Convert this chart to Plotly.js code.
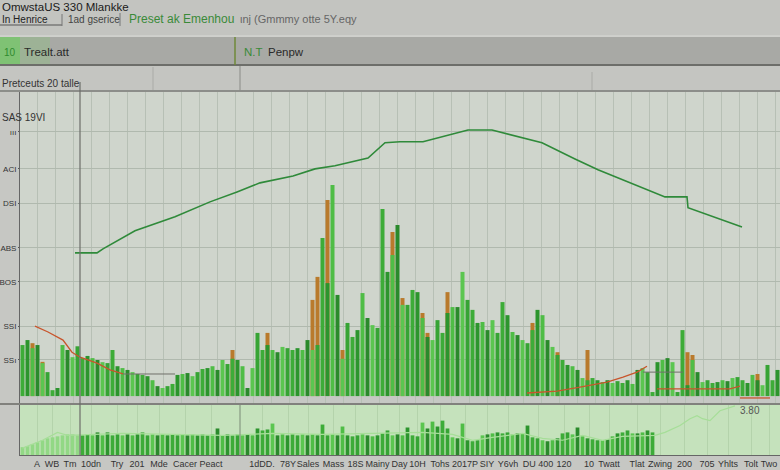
<!DOCTYPE html>
<html>
<head>
<meta charset="utf-8">
<script src="https://cdn.plot.ly/plotly-3.0.1.min.js"></script>
<style>html,body{margin:0;padding:0;background:#c6c7c3;}#chart{width:780px;height:470px;}</style>
</head>
<body>
<div id="chart"></div>
<script>
// ---- data ----
const greenVals = [16.4,18,15.4,16.4,10.6,7.7,1.9,2.6,16.4,14.8,12.5,16,12.2,12.9,12.2,11.6,10.9,10.6,14.8,9.6,
9,8.4,7.7,7.1,6.8,6.4,5.1,3.2,2.6,3.2,3.9,6.8,7.1,7.4,6.4,7.7,8.7,9,9.6,8.4,
11.6,10.3,12,11.6,9.6,2.6,9,20.3,14.8,16.4,14.8,14.1,15.8,15.4,14.8,15.4,14.8,18,14.8,16.4,
50.8,36.3,67.8,32.5,12,23.5,19,21.2,33.1,25.1,22.8,21.9,60.1,39.9,45.3,55,29.3,29.3,34.1,33.4,
25.1,19,18,24.4,20.3,26.7,28.6,28.6,39.9,30.9,27.7,23.5,23.8,21.2,24.4,20.3,30.2,26,20.6,19.6,
18,17,21.2,27.7,26,18,15.8,13.2,11.6,10,9.6,8.4,5.8,5.1,5.8,5.1,4.5,5.1,4.2,4.8,
4.2,5.1,3.9,8.4,9,7.7,1.3,10.9,11.6,12.2,10.9,1.3,21.2,3.5,11.6,7.7,4.5,5.1,4.2,4.5,
5.1,4.8,5.8,6.1,5.1,4.2,6.8,5.1,3.5,10,5.1,8.4];
const orangeVals = greenVals.map(() => null);
const orangeIdx = [2,4,42,49,58,59,61,64,74,76,80,81,85,102,107,113,133,134,147];
const orangeAt = [17,11,14.8,20.3,30.9,38.3,63,14.8,52.7,31.5,26.7,20.3,33.4,23.5,14.1,14.8,14.1,13.2,7.1];
orangeIdx.forEach((d, k) => { orangeVals[d] = orangeAt[k]; });

const trendDays = [10.5,14.9,16.1,22.5,30.5,37.5,42.9,47.5,54.1,58.5,62.5,69.1,72.5,75.5,80.1,89.1,93.9,103.9,110.5,115.1,128.5,132.9,133.1,143.9];
const trendVals = [46,46,47.3,53.1,57.6,62.4,65.6,68.5,70.7,73,74,76.5,81.4,81.7,81.7,85.5,85.5,81.4,76.2,72.7,64,64,60.5,54.3];

const redDays = [2.5,5.1,8.1,9.9,11.5,14.9,17.5,20.1,null,100.9,106.9,111.5,116.9,120.1,122.9,124.9,null,126.9,141.5,143.5,null,143.5,149.5];
const redVals = [22.5,20.6,18,14.1,12.5,10.6,8.4,7.1,null,1,1.6,2.9,4.5,6.1,7.7,9.6,null,2.3,2.3,3.2,null,-0.6,-0.6];

const grayDays = [20.1,30.5,null,124.1,132.1];
const grayVals = [7.1,7.1,null,7.7,7.7];

const lowVals = [1.6,1.8,2.2,2.6,3,3.4,3.6,3.8,4,4.2,4.2,4,4,4.2,4,4.6,4,4.6,4,4.2,
4,4.2,4,4.2,4.6,4,4.2,4,4.2,4,4.2,4,4.2,4,4.2,4,4.2,4,4.2,5.4,
4,4.2,4,4.2,4,4.2,4,5.4,5,5.2,6.4,4,4.2,4,4.2,4,4.2,4,4.2,4,
6.2,4,4.2,4,5.8,4,3.8,4,4.2,4,3.8,4,4.4,5,4,4.2,4,5.6,4,3.8,
6.6,5.4,6.8,5.8,7,5.4,3.6,3.4,6.4,3,2.8,3,4,4.2,4.4,4.6,4.4,4.6,4.2,4.4,
4.4,6,3.6,3.4,3,2.8,3,3.4,4.4,4.6,4.2,5.6,3.8,3.4,3.2,3,3,3.2,3.8,4.4,
4.6,5,4.4,4.4,4.6,5,4.6];
const lowLineDays = [0,4,7,9,20,30,40,50,60,70,80,86,90,94,100,104,108,112,116,120,126.5,128.5,131.5,133.5,134.9,136,137.5,139.5,141.5,142.5];
const lowLineVals = [1.4,3,4.6,4,4.4,4.2,4,4.4,4.2,4.4,4.6,4.2,3,3.6,4.4,3.4,3,4,3,3.8,4,4.6,6,7.4,8,7.4,7,9,9.6,10];

const xTickDays = [2.9,5.9,9.5,13.7,18.9,22.9,27.3,32.5,37.7,47.9,53.1,57.1,62.2,66.6,71.0,75.4,79.0,83.5,88.5,92.9,97.1,103.1,108.3,113.3,117.3,122.9,127.5,132.4,136.9,141.1,145.7,149.3];
const xTickText = ['A','WB','Tm','10dn','Try','201','Mde','Cacer','Peact','1dDD.','78Y','Sales','Mass','18S','Mainy','Day','10H','Tohs','2017P','SIY','Y6vh','DU 400','120','10','Twatt','Tlat','Zwing','200','705','Yhlts','Tolt','Two'];
const yTickVals = [11.6,22.5,36.7,47.6,62,73,84.9];
const yTickText = ['SSı','SSI','BOS','ABS','DSI','ACI','ııı'];

// ---- drawing ----
const days = greenVals.map((_, i) => i);
const lowDays = lowVals.map((_, i) => i);
const shades = ['#3dac38','#2c952d','#4fbd46','#2a8a2b','#5bc650','#36a434'];
const greenColors = days.map(i => shades[(i * 7) % shades.length]);
const lowColors = lowDays.map(i => i < 12 ? '#92d885' : shades[(i * 5) % shades.length]);

const px = p => (p - 20) / 760;          // helper for header layout (paper coords)
const py = p => (455 - p) / 363;

const traces = [
  {type:'bar', x:days, y:orangeVals, marker:{color:'#b97a2c'}, width:0.8, xaxis:'x', yaxis:'y'},
  {type:'bar', x:days, y:greenVals, marker:{color:greenColors}, width:0.8, xaxis:'x', yaxis:'y'},
  {type:'scatter', mode:'lines', x:trendDays, y:trendVals, line:{color:'#2f8a3a', width:1.6}, xaxis:'x', yaxis:'y'},
  {type:'scatter', mode:'lines', x:redDays, y:redVals, line:{color:'#c8552c', width:1.3}, connectgaps:false, xaxis:'x', yaxis:'y'},
  {type:'scatter', mode:'lines', x:grayDays, y:grayVals, line:{color:'#6f6f6a', width:1}, connectgaps:false, xaxis:'x', yaxis:'y'},
  {type:'bar', x:lowDays, y:lowVals, marker:{color:lowColors}, width:0.75, xaxis:'x2', yaxis:'y2'},
  {type:'scatter', mode:'lines', x:lowLineDays, y:lowLineVals, line:{color:'#a6de98', width:1.2}, xaxis:'x2', yaxis:'y2'}
];

const F = 'Liberation Sans, Arial, sans-serif';
const ann = (x, y, text, size, color, extra) => Object.assign({xref:'paper', yref:'paper', x:x, y:y, text:text, showarrow:false, xanchor:'left', yanchor:'middle', font:{family:F, size:size, color:color}}, extra || {});

const layout = {
  width:780, height:470,
  margin:{l:20, r:0, t:92, b:15},
  paper_bgcolor:'#c6c7c3',
  plot_bgcolor:'#cfd5cc',
  showlegend:false, hovermode:false, barmode:'overlay',
  font:{family:F, color:'#333'},
  xaxis:{domain:[0,1], anchor:'y', range:[-0.5,151.5], showticklabels:false, ticks:'', showgrid:true, gridcolor:'#b7c0b5', gridwidth:1, dtick:3.6, tick0:2.9, zeroline:false, showline:false},
  yaxis:{domain:[0.143,1], anchor:'x', range:[-2.25,97.7], tickvals:yTickVals, ticktext:yTickText, tickfont:{size:8, color:'#333'}, ticks:'outside', ticklen:1, tickcolor:'#555', showgrid:true, gridcolor:'#b0b9ae', zeroline:false, showline:true, linecolor:'#666', linewidth:1},
  xaxis2:{domain:[0,1], anchor:'y2', matches:'x', range:[-0.5,151.5], tickvals:xTickDays, ticktext:xTickText, tickangle:0, tickfont:{size:9, color:'#333'}, ticks:'', showgrid:true, gridcolor:'#b4d3ab', zeroline:false, showline:true, linecolor:'#666', linewidth:1},
  yaxis2:{domain:[0,0.138], anchor:'x2', range:[0,10.2], showticklabels:false, ticks:'', showgrid:false, zeroline:false, showline:true, linecolor:'#666'},
  shapes:[
    {type:'rect', xref:'x2 domain', yref:'y2 domain', x0:0, x1:1, y0:0, y1:1, fillcolor:'#c5e2bc', line:{width:0}, layer:'below'},
    {type:'rect', xref:'paper', yref:'paper', x0:0, x1:1, y0:py(403), y1:py(396), fillcolor:'#c6c8c4', line:{width:0}, layer:'below'},
    {type:'line', xref:'paper', yref:'paper', x0:px(0), x1:1, y0:py(404), y1:py(404), line:{color:'#6a6a66', width:1.5}},
    {type:'rect', xref:'paper', yref:'paper', x0:px(0), x1:1, y0:py(36), y1:py(0), fillcolor:'#c3c4c0', line:{width:0}},
    {type:'rect', xref:'paper', yref:'paper', x0:px(0), x1:1, y0:py(65), y1:py(37), fillcolor:'#a8a9a5', line:{width:0}},
    {type:'rect', xref:'paper', yref:'paper', x0:px(0), x1:px(20), y0:py(65), y1:py(37), fillcolor:'rgba(110,205,95,0.7)', line:{width:0}},
    {type:'rect', xref:'paper', yref:'paper', x0:px(20), x1:px(50), y0:py(65), y1:py(37), fillcolor:'rgba(130,200,110,0.28)', line:{width:0}},
    {type:'line', xref:'paper', yref:'paper', x0:px(0), x1:1, y0:py(36), y1:py(36), line:{color:'#d2d3cf', width:1.5}},
    {type:'line', xref:'paper', yref:'paper', x0:px(0), x1:1, y0:py(65), y1:py(65), line:{color:'#6d6e6a', width:2}},
    {type:'line', xref:'paper', yref:'paper', x0:px(235), x1:px(235), y0:py(65), y1:py(37), line:{color:'#6f8a3a', width:1.5}},
    {type:'rect', xref:'paper', yref:'paper', x0:px(0), x1:1, y0:py(91), y1:py(66), fillcolor:'#c4c5c1', line:{width:0}},
    {type:'line', xref:'paper', yref:'paper', x0:px(0), x1:1, y0:py(91), y1:py(91), line:{color:'#7a7b77', width:1.5}},
    {type:'line', xref:'paper', yref:'paper', x0:px(153), x1:px(153), y0:py(90), y1:py(67), line:{color:'#aaaba7', width:1}},
    {type:'line', xref:'paper', yref:'paper', x0:px(592), x1:px(592), y0:py(90), y1:py(72), line:{color:'#aaaba7', width:1}},
    {type:'line', xref:'paper', yref:'paper', x0:px(0), x1:px(62), y0:py(25), y1:py(25), line:{color:'#555', width:1}},
    {type:'line', xref:'paper', yref:'paper', x0:px(62), x1:px(62), y0:py(26), y1:py(14), line:{color:'#777', width:1}},
    {type:'line', xref:'paper', yref:'paper', x0:px(120), x1:px(120), y0:py(26), y1:py(13), line:{color:'#777', width:1}},
    {type:'line', xref:'paper', yref:'paper', x0:px(80), x1:px(80), y0:0, y1:py(82), line:{color:'#6c6d69', width:1.2}},
    {type:'line', xref:'paper', yref:'paper', x0:px(240), x1:px(240), y0:0, y1:py(405), line:{color:'#7b8a76', width:1}},
    {type:'line', xref:'paper', yref:'paper', x0:px(240), x1:px(240), y0:py(91), y1:py(66), line:{color:'#8a8b87', width:1}}
  ],
  annotations:[
    ann(px(0), py(7), 'ОmwstaUS 330 Mlankke', 11.5, '#1a1a1a'),
    ann(px(0), py(19), 'In Henrice', 10, '#222'),
    ann(px(66), py(19), '1ad gserice', 10, '#444'),
    ann(px(127), py(19), 'Preset ak Emenhou', 12, '#3a8a38'),
    ann(px(238), py(19), 'ιnj (Gmmmy otte 5Y.eqy', 11, '#666'),
    ann(px(2), py(52), '10', 10, '#2f8a2f'),
    ann(px(22), py(52), 'Trealt.att', 11.5, '#2a2a2a'),
    ann(px(242), py(52), 'N.T', 11.5, '#3a8a38'),
    ann(px(266), py(52), 'Penpw', 11.5, '#2a2a2a'),
    ann(px(0), py(83), 'Pretceuts 20 talle', 10, '#333'),
    ann(px(0), py(117), 'SAS 19VI', 10, '#333'),
    ann(px(738), py(410), '3.80', 10, '#555')
  ]
};

Plotly.newPlot('chart', traces, layout, {displayModeBar:false, staticPlot:true});
</script>
</body>
</html>
